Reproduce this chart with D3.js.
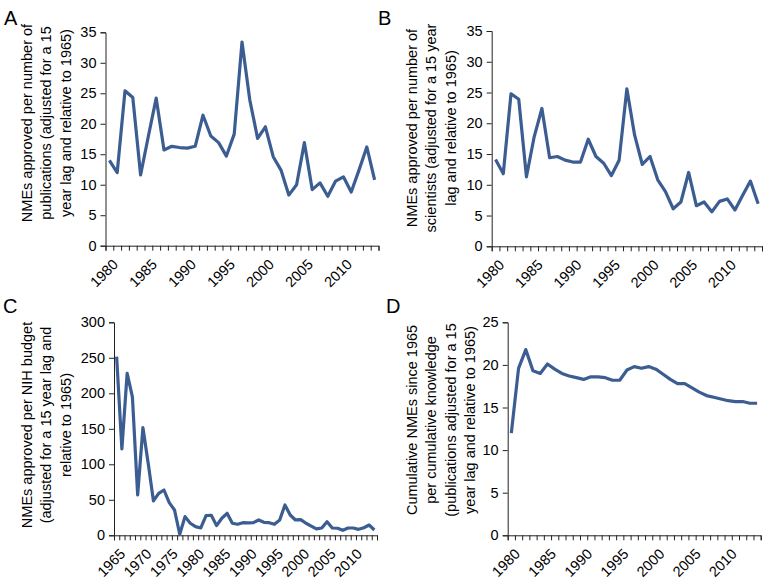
<!DOCTYPE html>
<html><head><meta charset="utf-8">
<script src="https://cdn.jsdelivr.net/npm/d3@7"></script>
<style>
html,body{margin:0;padding:0;background:#fff;}
svg{display:block;font-family:"Liberation Sans",Arial,Helvetica,sans-serif;}
</style></head>
<body><svg id="chart" width="764" height="580"></svg>
<script>
const yearsA = d3.range(1980, 2015);
const yearsC = d3.range(1965, 2015);
const valuesA = [14.0,12.0,25.4,24.3,11.6,18.0,24.2,15.7,16.3,16.1,16.0,16.3,21.4,18.0,16.9,14.7,18.3,33.4,23.9,17.6,19.5,14.6,12.4,8.3,10.0,16.9,9.2,10.3,8.1,10.6,11.3,8.8,12.4,16.2,10.8];
const valuesB = [14.1,11.8,24.8,23.9,11.3,17.8,22.4,14.4,14.6,14.0,13.7,13.7,17.4,14.6,13.5,11.5,14.0,25.6,18.1,13.3,14.6,10.8,8.9,6.1,7.2,12.0,6.6,7.2,5.6,7.3,7.7,5.9,8.3,10.6,6.9];
const valuesC = [251.6,121.6,228,195,56.8,151.6,101.4,48.4,59,63.8,46,35.7,1.5,26.3,17,12.2,10.3,27.7,28.2,13.6,24,31,17,15.5,17.8,17.4,17.8,21.6,18.3,17.8,15.5,21.6,42.7,28.6,21.6,22,17,13,9,10.3,19.2,10.3,9.9,7,10.3,10.3,8.4,10.7,14.5,7.5];
const valuesD = [12.0,19.6,21.8,19.3,19.0,20.1,19.5,19.0,18.7,18.5,18.3,18.6,18.6,18.5,18.2,18.2,19.4,19.8,19.6,19.8,19.5,18.9,18.3,17.8,17.8,17.3,16.8,16.4,16.2,16.0,15.8,15.7,15.7,15.5,15.5];
const ticksA = [0,5,10,15,20,25,30,35];
const ticksC = [0,50,100,150,200,250,300];
const ticksD = [0,5,10,15,20,25];
const labelsA = ["NMEs approved per number of","publications (adjusted for a 15","year lag and relative to 1965)"];
const labelsB = ["NMEs approved per number of","scientists (adjusted for a 15 year","lag and relative to 1965)"];
const labelsC = ["NMEs approved per NIH budget","(adjusted for a 15 year lag and","relative to 1965)"];
const labelsD = ["Cumulative NMEs since 1965","per cumulative knowledge","(publications adjusted for a 15","year lag and relative to 1965)"];

const svg = d3.select("#chart");
const lineColor = "#3c5d92";
const axisColor = "#222";

function panel(o){
  const g = svg.append("g");
  const x = d3.scaleBand().domain(o.years).range([o.x0, o.x1]).padding(0);
  const y = d3.scaleLinear().domain([0, o.ymax]).range([o.yb, o.yt]);
  const xl = d3.scaleLinear().domain([0, o.years.length]).range([o.x0, o.x1]);
  const minor = g.append("g").attr("transform", `translate(0,${o.yb})`)
    .call(d3.axisBottom(xl).tickValues(d3.range(0, o.years.length + 1)).tickSize(5).tickFormat(""));
  minor.select(".domain").attr("stroke", axisColor);
  minor.selectAll(".tick line").attr("stroke", axisColor);
  const lab = g.append("g").attr("transform", `translate(0,${o.yb})`)
    .call(d3.axisBottom(x).tickValues(o.years.filter(v => v % 5 === 0)).tickSize(0));
  lab.select(".domain").remove();
  lab.selectAll(".tick text").attr("font-size", 14.5).attr("fill", "#000")
    .attr("font-family", '"Liberation Sans",Arial,sans-serif')
    .attr("text-anchor", "end").attr("y", 0).attr("x", 0).attr("dy", "0.35em")
    .attr("transform", "translate(6,16) rotate(-45)");
  const ya = g.append("g").attr("transform", `translate(${o.x0},0)`)
    .call(d3.axisLeft(y).tickValues(o.yticks).tickSize(5).tickPadding(4));
  ya.select(".domain").attr("stroke", axisColor);
  ya.selectAll(".tick line").attr("stroke", axisColor);
  ya.selectAll(".tick text").attr("font-size", 14.5).attr("fill", "#000")
    .attr("font-family", '"Liberation Sans",Arial,sans-serif');
  const line = d3.line().x((d, i) => x(o.years[i]) + x.bandwidth() / 2).y(d => y(d));
  g.append("path").datum(o.values).attr("d", line).attr("fill", "none")
    .attr("stroke", lineColor).attr("stroke-width", 3.2).attr("stroke-linejoin", "round");
  const t = g.append("text").attr("font-size", 14.5).attr("fill", "#000").attr("text-anchor", "middle")
    .attr("transform", `translate(${o.lx},${o.ly}) rotate(-90)`);
  t.selectAll("tspan").data(o.labels).join("tspan").attr("x", 0).attr("y", (d, i) => i * o.lh).text(d => d);
  g.append("text").attr("x", o.px).attr("y", o.py).attr("font-size", 20).attr("fill", "#000").text(o.letter);
}

panel({years: yearsA, values: valuesA, x0: 105.5, x1: 378.5, yb: 245.7, yt: 32.3, ymax: 35, yticks: ticksA,
  labels: labelsA, lx: 32, ly: 123, lh: 19.3, letter: "A", px: 4, py: 25});
panel({years: yearsA, values: valuesB, x0: 491.7, x1: 762, yb: 246.3, yt: 31, ymax: 35, yticks: ticksA,
  labels: labelsB, lx: 417, ly: 128, lh: 19.3, letter: "B", px: 378, py: 25});
panel({years: yearsC, values: valuesC, x0: 114, x1: 377, yb: 535.3, yt: 322.3, ymax: 300, yticks: ticksC,
  labels: labelsC, lx: 32, ly: 425, lh: 19.3, letter: "C", px: 3, py: 313});
panel({years: yearsA, values: valuesD, x0: 507.7, x1: 760.7, yb: 535.3, yt: 322.3, ymax: 25, yticks: ticksD,
  labels: labelsD, lx: 417, ly: 420, lh: 19.3, letter: "D", px: 386, py: 313});
</script></body></html>
